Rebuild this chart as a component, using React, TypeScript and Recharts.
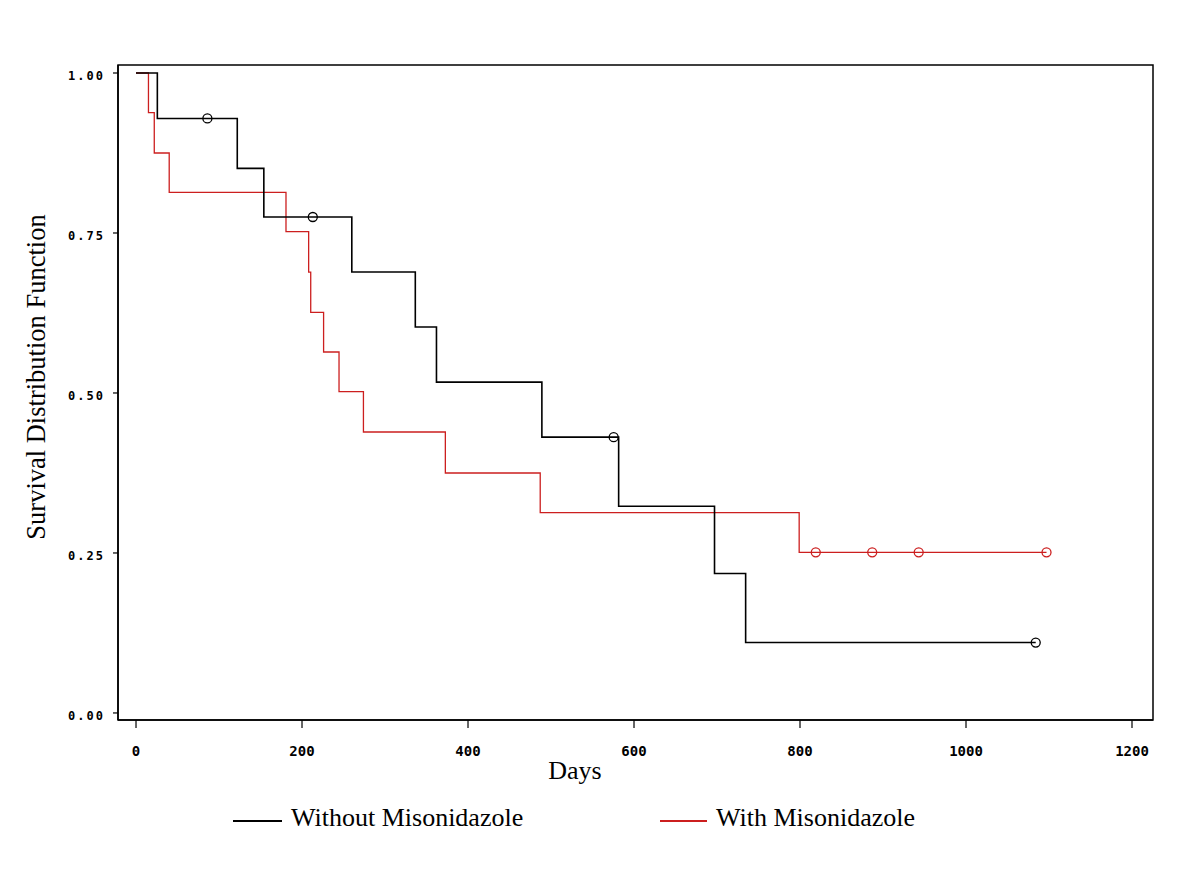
import React from "react";
import {
  ComposedChart,
  Line,
  Scatter,
  XAxis,
  YAxis,
  ReferenceArea,
  Label,
  Legend,
} from "recharts";

// Kaplan-Meier step data (days, survival)
const withoutTimes = [0, 25.7, 122, 154, 260, 336.5, 362, 489, 581.5, 697, 734.5, 1084];
const withoutSurv = [1.0, 0.929, 0.851, 0.775, 0.689, 0.603, 0.517, 0.431, 0.323, 0.218, 0.11, 0.11];
const withoutCensorTimes = [86, 213, 575.5, 1084];
const withoutCensorSurv = [0.929, 0.775, 0.431, 0.11];

const withTimes = [0, 15, 22, 40, 180.7, 208, 210.5, 226, 244.6, 274, 372.7, 487, 799, 1097];
const withSurv = [1.0, 0.938, 0.875, 0.8136, 0.752, 0.689, 0.626, 0.564, 0.502, 0.439, 0.375, 0.313, 0.251, 0.251];
const withCensorTimes = [819, 887, 943, 1097];
const withCensorSurv = [0.251, 0.251, 0.251, 0.251];

const xTicks = [0, 200, 400, 600, 800, 1000, 1200];
const yTicks = [0, 0.25, 0.5, 0.75, 1.0];
const xDomain: [number, number] = [-21.7, 1225.3];
const yDomain: [number, number] = [-0.011, 1.0125];

const seriesNames = ["Without Misonidazole", "With Misonidazole"];
const BLACK = "#000000";
const RED = "#cc1f1f";

const toPoints = (ts: number[], ss: number[]) => ts.map((t, i) => ({ t, s: ss[i] }));

const withoutData = toPoints(withoutTimes, withoutSurv);
const withData = toPoints(withTimes, withSurv);
const withoutCensor = toPoints(withoutCensorTimes, withoutCensorSurv);
const withCensor = toPoints(withCensorTimes, withCensorSurv);

const serif = "'Liberation Serif', 'Times New Roman', serif";
const mono = "'DejaVu Sans Mono', monospace";

const circleShape = (color: string) => (props: any) => {
  const { cx, cy } = props;
  if (cx == null || cy == null) return <g />;
  return <circle cx={cx} cy={cy} r={4.5} fill="none" stroke={color} strokeWidth={1.3} />;
};

const LegendContent = () => (
  <div style={{ position: "relative", height: 40, width: 1184, fontFamily: serif, fontSize: 26 }}>
    <div style={{ position: "absolute", left: 225, top: 17, width: 49, height: 0, borderTop: `2px solid ${BLACK}` }} />
    <span style={{ position: "absolute", left: 283, top: 0, lineHeight: "30px", color: "#000", whiteSpace: "nowrap" }}>
      {seriesNames[0]}
    </span>
    <div style={{ position: "absolute", left: 652, top: 17, width: 47, height: 0, borderTop: `2px solid ${RED}` }} />
    <span style={{ position: "absolute", left: 708, top: 0, lineHeight: "30px", color: "#000", whiteSpace: "nowrap" }}>
      {seriesNames[1]}
    </span>
  </div>
);

export default function App() {
  return (
    <div style={{ width: 1184, height: 872, background: "#fff" }}>
      <ComposedChart
        width={1184}
        height={872}
        margin={{ top: 57, left: 0, right: 39, bottom: 90 }}
      >
        <XAxis
          type="number"
          dataKey="t"
          domain={xDomain}
          ticks={xTicks}
          allowDataOverflow
          interval={0}
          tickSize={8}
          tickMargin={18}
          height={30}
          axisLine={{ stroke: "#000", strokeWidth: 1.5 }}
          tickLine={{ stroke: "#000", strokeWidth: 1.2 }}
          tick={{ fill: "#000", fontFamily: mono, fontWeight: "bold", fontSize: 14 }}
        >
          <Label
            content={() => (
              <text x={567} y={771} textAnchor="middle" fontFamily={serif} fontSize={26} fill="#000">
                Days
              </text>
            )}
          />
        </XAxis>
        <YAxis
          type="number"
          dataKey="s"
          domain={yDomain}
          ticks={yTicks}
          allowDataOverflow
          interval={0}
          width={110}
          tickSize={5}
          tickMargin={8}
          tickFormatter={(v: number) => v.toFixed(2)}
          axisLine={{ stroke: "#000", strokeWidth: 1.5 }}
          tickLine={{ stroke: "#000", strokeWidth: 1.2 }}
          tick={{ fill: "#000", fontFamily: mono, fontWeight: "bold", fontSize: 12, letterSpacing: 2, dy: 3 }}
        >
          <Label
            content={() => (
              <text
                x={37}
                y={369}
                textAnchor="middle"
                fontFamily={serif}
                fontSize={26.5}
                fill="#000"
                transform="rotate(-90, 37, 369)"
              >
                Survival Distribution Function
              </text>
            )}
          />
        </YAxis>
        <ReferenceArea
          x1={xDomain[0]}
          x2={xDomain[1]}
          y1={yDomain[0]}
          y2={yDomain[1]}
          fill="none"
          fillOpacity={0}
          stroke="#000"
          strokeWidth={1.5}
          ifOverflow="visible"
        />
        <Line
          data={withData}
          dataKey="s"
          type="stepAfter"
          stroke={RED}
          strokeWidth={1.3}
          dot={false}
          isAnimationActive={false}
          name={seriesNames[1]}
        />
        <Line
          data={withoutData}
          dataKey="s"
          type="stepAfter"
          stroke={BLACK}
          strokeWidth={1.6}
          dot={false}
          isAnimationActive={false}
          name={seriesNames[0]}
        />
        <Scatter
          data={withoutCensor}
          dataKey="s"
          shape={circleShape(BLACK)}
          isAnimationActive={false}
          legendType="none"
        />
        <Scatter
          data={withCensor}
          dataKey="s"
          shape={circleShape(RED)}
          isAnimationActive={false}
          legendType="none"
        />
        <Legend
          content={LegendContent}
          wrapperStyle={{ position: "absolute", left: 0, top: 795, width: 1184 }}
        />
      </ComposedChart>
    </div>
  );
}
